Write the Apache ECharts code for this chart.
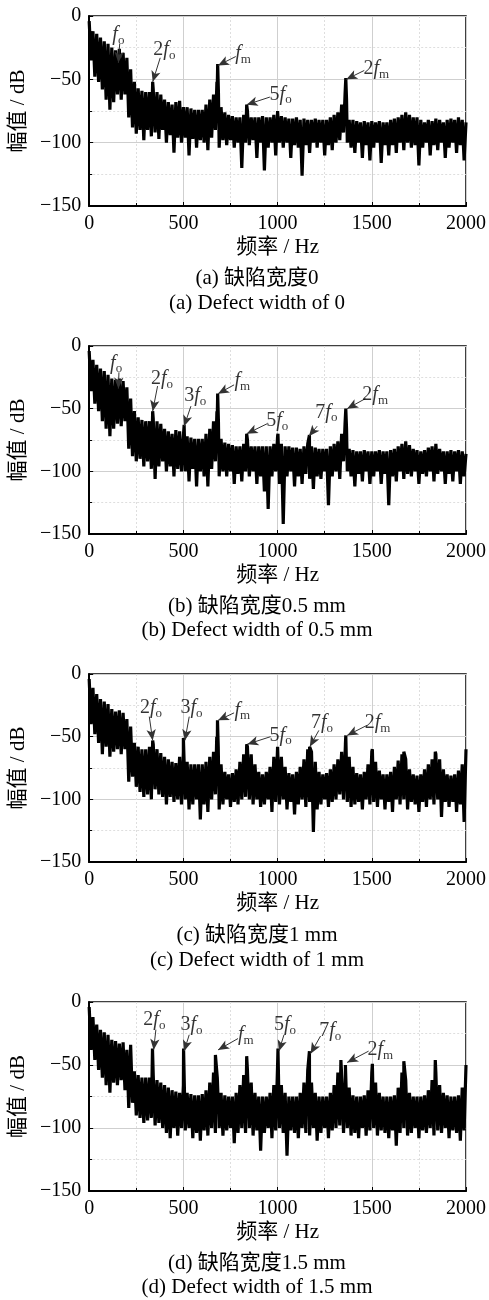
<!DOCTYPE html>
<html><head><meta charset="utf-8">
<script src="https://cdn.jsdelivr.net/npm/echarts@6/dist/echarts.min.js"></script>
<style>html,body{margin:0;padding:0;background:#fff}#c{width:489px;height:1300px}</style>
</head><body><div id="c"></div>
<script>
// Frequency grid (Hz), sampled every 10 Hz from 0 to 2000
const freqStep = 10;
const xTicks = [0, 500, 1000, 1500, 2000];
const yTicks = [-150, -100, -50, 0];

// Spectrum readings (dB) at each 10 Hz bin, alternating upper / lower envelope of the dense trace
const noiseA = [
-4,-35,-12,-48,-14,-52,-17,-58,-20,-66,
-22,-74,-25,-68,-27,-62,-26,-66,-29,-62,
-33,-80,-42,-88,-52,-93,-57,-90,-59,-98,
-60,-90,-60,-95,-58,-92,-60,-97,-62,-90,
-66,-100,-68,-94,-70,-108,-68,-96,-67,-100,
-72,-96,-72,-110,-73,-97,-74,-104,-74,-98,
-74,-100,-70,-106,-66,-96,-62,-90,-55,-104,
-72,-98,-76,-102,-78,-98,-79,-104,-80,-100,
-80,-120,-78,-100,-75,-102,-80,-98,-80,-112,
-80,-100,-79,-122,-80,-104,-80,-100,-78,-110,
-75,-100,-79,-104,-80,-100,-81,-112,-81,-102,
-80,-104,-82,-126,-81,-102,-82,-108,-82,-100,
-81,-104,-82,-100,-82,-110,-82,-102,-80,-106,
-78,-100,-76,-98,-70,-92,-62,-100,-82,-104,
-82,-108,-83,-100,-84,-112,-83,-102,-84,-114,
-83,-104,-84,-100,-83,-116,-84,-102,-84,-110,
-82,-102,-81,-108,-80,-100,-78,-106,-76,-100,
-78,-104,-80,-102,-80,-118,-82,-104,-84,-100,
-82,-110,-83,-102,-81,-106,-82,-100,-84,-112,
-82,-104,-81,-100,-82,-108,-80,-102,-82,-114,-84];
const peaksA = [[337,-52],[678,-52],[682,-38],[686,-60],[836,-70],[1358,-62],[1362,-49],[1366,-66]];

const noiseB = [
-4,-36,-11,-46,-15,-52,-18,-60,-20,-66,
-23,-72,-26,-66,-27,-62,-26,-64,-28,-60,
-33,-82,-42,-88,-52,-92,-57,-90,-59,-96,
-60,-92,-60,-98,-58,-106,-60,-96,-62,-92,
-66,-100,-68,-96,-70,-104,-67,-98,-68,-100,
-72,-100,-72,-108,-73,-98,-74,-112,-74,-100,
-74,-104,-70,-112,-66,-98,-60,-92,-56,-104,
-74,-100,-77,-104,-78,-100,-79,-110,-80,-102,
-80,-108,-78,-100,-75,-104,-80,-100,-80,-110,
-80,-104,-80,-116,-80,-130,-80,-104,-78,-100,
-72,-110,-78,-142,-80,-104,-80,-100,-81,-112,
-81,-104,-82,-110,-80,-102,-78,-106,-80,-114,
-81,-104,-82,-106,-82,-100,-82,-127,-80,-104,
-78,-100,-76,-106,-70,-92,-62,-100,-82,-104,
-83,-112,-84,-102,-84,-108,-83,-100,-84,-110,
-84,-104,-84,-100,-83,-110,-84,-102,-84,-127,
-83,-104,-82,-108,-80,-100,-78,-106,-76,-102,
-79,-104,-82,-100,-83,-110,-84,-102,-83,-104,
-81,-100,-80,-108,-78,-102,-82,-100,-84,-110,
-84,-102,-83,-108,-84,-100,-83,-110,-84,-104,-86];
const peaksB = [[337,-52],[504,-63],[678,-52],[682,-38],[686,-60],[836,-70],[1002,-70],[1169,-71],[1358,-62],[1362,-50],[1366,-66]];

const noiseC = [
-4,-40,-11,-48,-16,-55,-20,-64,-22,-58,
-24,-66,-28,-62,-30,-60,-29,-64,-31,-60,
-36,-86,-42,-82,-55,-90,-58,-94,-60,-98,
-60,-96,-58,-100,-56,-92,-60,-96,-63,-98,
-66,-104,-68,-98,-70,-102,-71,-100,-66,-104,
-62,-100,-70,-108,-72,-104,-72,-100,-72,-116,
-72,-104,-70,-110,-66,-100,-62,-96,-60,-108,
-72,-104,-78,-100,-80,-106,-79,-102,-76,-104,
-70,-100,-64,-98,-58,-100,-64,-104,-72,-100,
-78,-106,-80,-104,-78,-100,-74,-110,-66,-102,
-58,-104,-66,-100,-74,-108,-79,-102,-80,-112,
-78,-104,-74,-100,-68,-106,-60,-102,-62,-126,
-70,-108,-78,-104,-80,-100,-79,-106,-76,-102,
-72,-100,-68,-96,-62,-100,-56,-102,-66,-106,
-74,-104,-79,-102,-80,-108,-78,-100,-72,-104,
-62,-102,-70,-106,-77,-100,-80,-108,-80,-102,
-78,-110,-74,-100,-69,-104,-64,-100,-68,-108,
-76,-102,-80,-104,-81,-110,-80,-102,-76,-106,
-72,-100,-68,-104,-64,-100,-68,-114,-76,-102,
-80,-106,-81,-102,-80,-110,-77,-104,-72,-118,-60];
const peaksC = [[337,-53],[500,-51],[677,-50],[681,-37],[685,-58],[836,-56],[1002,-57],[1170,-58],[1362,-49],[1503,-60],[1670,-62],[1837,-62]];

const noiseD = [
-4,-38,-12,-46,-18,-54,-22,-60,-24,-66,
-26,-72,-30,-64,-31,-66,-33,-62,-32,-70,
-38,-84,-34,-80,-55,-90,-58,-92,-60,-96,
-60,-94,-60,-92,-58,-98,-62,-96,-64,-100,
-66,-104,-68,-108,-70,-100,-71,-106,-72,-100,
-66,-102,-72,-100,-73,-108,-74,-104,-74,-110,
-73,-102,-70,-106,-64,-100,-56,-104,-60,-100,
-72,-106,-74,-102,-75,-100,-75,-112,-72,-104,
-66,-100,-58,-104,-54,-100,-64,-106,-72,-102,
-75,-118,-75,-104,-75,-100,-72,-108,-66,-102,
-50,-100,-66,-104,-72,-122,-75,-102,-75,-104,
-75,-108,-72,-100,-64,-104,-54,-106,-64,-100,
-72,-110,-75,-104,-75,-100,-75,-108,-72,-102,
-66,-100,-56,-98,-58,-104,-58,-100,-68,-106,
-74,-104,-75,-108,-75,-100,-74,-106,-70,-102,
-56,-100,-64,-106,-72,-102,-75,-104,-75,-108,
-75,-102,-74,-114,-68,-104,-56,-100,-62,-106,
-72,-104,-75,-100,-75,-108,-75,-102,-74,-104,
-70,-100,-62,-106,-56,-102,-66,-104,-72,-100,
-74,-108,-75,-102,-75,-104,-74,-110,-68,-102,-50];
const peaksD = [[336,-37],[501,-37],[670,-42],[836,-43],[1002,-37],[1169,-39],[1336,-46],[1360,-50],[1503,-49],[1670,-47],[1837,-46]];

// Annotations: [label, textHz, textDB, arrowFromHz, arrowFromDB, arrowToHz, arrowToDB]
const annotA = [
['f_o',155,-15,162,-22,155,-37],
['2f_o',399,-27,377,-33,337,-52],
['f_m',817,-30,778,-32,684,-39],
['5f_o',1016,-62,959,-64,836,-70],
['2f_m',1524,-42,1460,-43,1365,-50]];
const annotB = [
['f_o',143,-14,158,-21,155,-34],
['2f_o',386,-26,363,-32,337,-52],
['3f_o',563,-40,540,-48,504,-64],
['f_m',813,-28,769,-31,684,-38],
['5f_o',998,-60,945,-62,836,-70],
['7f_o',1259,-53,1210,-64,1166,-72],
['2f_m',1518,-39,1466,-42,1369,-50]];
const annotC = [
['2f_o',328,-27,319,-34,337,-53],
['3f_o',543,-27,531,-34,508,-53],
['f_m',813,-29,769,-31,684,-37],
['5f_o',1016,-49,963,-50,840,-56],
['7f_o',1236,-39,1219,-45,1171,-58],
['2f_m',1531,-39,1474,-41,1369,-49]];
const annotD = [
['2f_o',346,-14,354,-22,342,-38],
['3f_o',543,-18,531,-26,504,-39],
['f_m',831,-26,790,-29,684,-38],
['5f_o',1039,-18,1034,-26,1007,-39],
['7f_o',1280,-23,1228,-27,1175,-41],
['2f_m',1545,-38,1483,-39,1369,-48]];

const captionsZh = ['(a) 缺陷宽度0','(b) 缺陷宽度0.5 mm','(c) 缺陷宽度1 mm','(d) 缺陷宽度1.5 mm'];
const captionsEn = ['(a) Defect width of 0','(b) Defect width of 0.5 mm','(c) Defect width of 1 mm','(d) Defect width of 1.5 mm'];
const xName = '频率 / Hz';
const yName = '幅值 / dB';

const panels = [
  {noise: noiseA, peaks: peaksA, annot: annotA},
  {noise: noiseB, peaks: peaksB, annot: annotB},
  {noise: noiseC, peaks: peaksC, annot: annotC},
  {noise: noiseD, peaks: peaksD, annot: annotD}
];
const layout = [
  {top: 16, height: 190, capY: [278, 303]},
  {top: 346, height: 188, capY: [606, 630]},
  {top: 674, height: 188, capY: [935, 960]},
  {top: 1002, height: 189, capY: [1263, 1287]}
];

const FONT = '"Times New Roman","Liberation Serif","Noto Sans CJK SC",serif';

function buildSeriesData(noise, peaks) {
  const pts = noise.map((v, i) => [i * freqStep, v]);
  peaks.forEach(p => pts.push([p[0], p[1]]));
  pts.sort((a, b) => a[0] - b[0]);
  return pts;
}
function richLabel(s) {
  const m = s.match(/^(\d*)f_(\w)$/);
  return (m[1] ? '{n|' + m[1] + '}' : '') + '{i|f}{s|' + m[2] + '}';
}

const grids = [], xAxes = [], yAxes = [], series = [], graphics = [];
layout.forEach((L, k) => {
  grids.push({left: 88, width: 378, top: L.top, height: L.height, show: true,
    borderColor: '#000', borderWidth: 1.5, backgroundColor: '#fff'});
  xAxes.push({type: 'value', gridIndex: k, min: xTicks[0], max: xTicks[xTicks.length - 1], interval: 500,
    axisLine: {show: true, onZero: false, lineStyle: {color: '#000', width: 2}},
    axisTick: {show: true, inside: true, length: 4, lineStyle: {color: '#000'}},
    minorTick: {show: true, splitNumber: 2, length: 3, lineStyle: {color: '#000'}},
    splitLine: {show: true, lineStyle: {color: '#cfcfcf', width: 1}},
    minorSplitLine: {show: true, lineStyle: {color: '#dedede', width: 1, type: [2, 2]}},
    axisLabel: {fontSize: 20, color: '#000', fontFamily: FONT, margin: 8, formatter: v => String(v)},
    name: xName, nameLocation: 'middle', nameGap: 31,
    nameTextStyle: {fontSize: 21, color: '#000', fontFamily: FONT}});
  yAxes.push({type: 'value', gridIndex: k, min: yTicks[0], max: yTicks[yTicks.length - 1], interval: 50,
    axisLine: {show: true, onZero: false, lineStyle: {color: '#000', width: 2}},
    axisTick: {show: true, inside: true, length: 4, lineStyle: {color: '#000'}},
    minorTick: {show: true, splitNumber: 2, length: 3, lineStyle: {color: '#000'}},
    splitLine: {show: true, lineStyle: {color: '#cfcfcf', width: 1}},
    minorSplitLine: {show: true, lineStyle: {color: '#dedede', width: 1, type: [2, 2]}},
    axisLabel: {fontSize: 20, color: '#000', fontFamily: FONT, margin: 8,
      formatter: v => String(v).replace('-', '\u2212')},
    name: yName, nameLocation: 'middle', nameGap: 58,
    nameTextStyle: {fontSize: 21, color: '#000', fontFamily: FONT}});
  const P = panels[k];
  series.push({type: 'line', xAxisIndex: k, yAxisIndex: k, data: buildSeriesData(P.noise, P.peaks),
    symbol: 'none', lineStyle: {color: '#000', width: 3.2, join: 'bevel', cap: 'butt'}, clip: true, animation: false, z: 3,
    markLine: {silent: true, animation: false, symbol: ['none', 'arrow'], symbolSize: [7, 11],
      lineStyle: {color: '#333', width: 1, type: 'solid'}, itemStyle: {color: '#000'},
      label: {show: false},
      data: P.annot.map(a => [{coord: [a[3], a[4]]}, {coord: [a[5], a[6]]}])}});
  series.push({type: 'scatter', xAxisIndex: k, yAxisIndex: k, symbolSize: 1, animation: false, z: 5,
    itemStyle: {color: 'rgba(0,0,0,0)'},
    data: P.annot.map(a => [a[1], a[2], a[0]]),
    label: {show: true, position: 'inside', color: '#000',
      formatter: p => richLabel(p.data[2]),
      rich: {
        n: {fontFamily: FONT, fontSize: 20, lineHeight: 24, color: '#000', verticalAlign: 'middle'},
        i: {fontFamily: FONT, fontStyle: 'italic', fontSize: 20, lineHeight: 24, color: '#000', verticalAlign: 'middle'},
        s: {fontFamily: FONT, fontSize: 13, lineHeight: 13, color: '#000', verticalAlign: 'bottom'}
      }}});
  graphics.push({type: 'text', style: {text: captionsZh[k], x: 257, y: L.capY[0], align: 'center', verticalAlign: 'middle',
    font: '21px ' + FONT, fill: '#000'}});
  graphics.push({type: 'text', style: {text: captionsEn[k], x: 257, y: L.capY[1], align: 'center', verticalAlign: 'middle',
    font: '21px ' + FONT, fill: '#000'}});
});

const chart = echarts.init(document.getElementById('c'), null, {renderer: 'canvas'});
chart.setOption({animation: false, backgroundColor: '#fff', grid: grids, xAxis: xAxes, yAxis: yAxes,
  series: series, graphic: graphics});
</script></body></html>
